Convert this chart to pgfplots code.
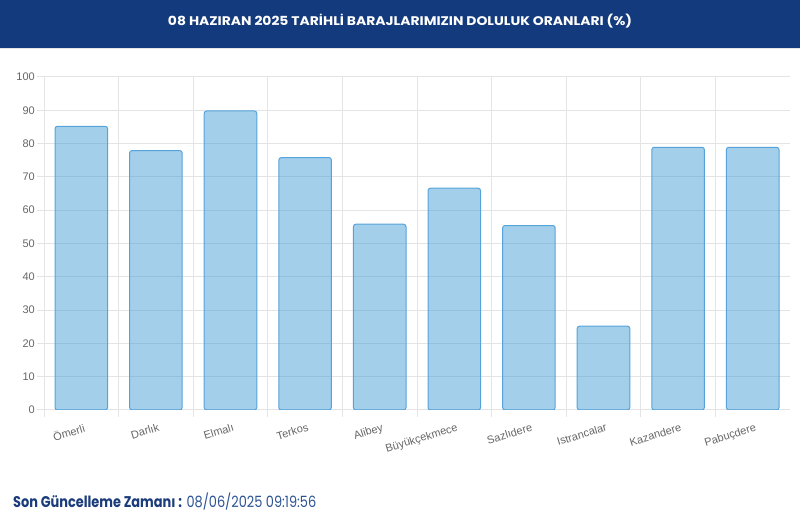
\documentclass[border=0pt]{standalone}
\usepackage{fontspec}
\setmainfont{Liberation Sans}
\newfontfamily\pop{Poppins}
\usepackage{pgfplots}
\pgfplotsset{compat=1.18}
\definecolor{band}{HTML}{133A7C}
\definecolor{tickc}{HTML}{666666}
\definecolor{gridc}{HTML}{E4E4E4}
\definecolor{barfill}{HTML}{499FD7}
\definecolor{barline}{HTML}{55A3DA}
\definecolor{dblue}{HTML}{1B3C7A}
\definecolor{mblue}{HTML}{2D5394}
\begin{document}
\begin{tikzpicture}[x=1bp,y=1bp]
\path[use as bounding box] (0,0) rectangle (800,527);
\fill[band] (0,479) rectangle (800,527);
\draw[gray!20, line width=1bp] (0,478.5) -- (800,478.5);
\node[text=white, inner sep=0pt, font=\pop\bfseries\fontsize{12.5bp}{14bp}\selectfont] at (400,506) {\resizebox{464bp}{\height}{08 HAZIRAN 2025 TARİHLİ BARAJLARIMIZIN DOLULUK ORANLARI (\%)}};
\node[anchor=west, inner sep=0pt, font=\pop\fontsize{15.5bp}{18bp}\selectfont] at (13,25) {\resizebox{303bp}{\height}{\textcolor{dblue}{\bfseries Son Güncelleme Zamanı :} \textcolor{mblue}{08/06/2025 09:19:56}}};
\begin{axis}[
  at={(44bp,117bp)}, anchor=south west,
  scale only axis, width=746bp, height=333bp,
  xmin=-0.5, xmax=9.5, ymin=0, ymax=100,
  axis line style={draw=none},
  ytick={0,10,...,100},
  xtick={0,...,9},
  xticklabels={Ömerli,Darlık,Elmalı,Terkos,Alibey,Büyükçekmece,Sazlıdere,Istrancalar,Kazandere,Pabuçdere},
  minor xtick={-0.5,0.5,...,8.5},
  xminorgrids, ymajorgrids,
  major grid style={gridc, line width=1bp},
  minor grid style={gridc, line width=1bp},
  tick align=outside,
  major tick length=7bp, minor tick length=7bp,
  xtick pos=bottom, ytick pos=left,
  every major x tick/.append style={draw=none},
  every minor x tick/.append style={gridc, line width=1bp},
  every major y tick/.append style={gridc, line width=1bp},
  /pgf/number format/assume math mode=true,
  yticklabel style={font=\fontsize{11bp}{13bp}\selectfont, text=tickc, inner sep=0pt, xshift=-2bp},
  xticklabel style={font=\fontsize{11bp}{13bp}\selectfont, text=tickc, inner sep=0pt, rotate=17, anchor=north east, yshift=-6bp},
]
\addplot[ybar, bar width=0.705, fill=barfill, fill opacity=0.5, draw=barline, line width=1bp, rounded corners=2.5bp]
  coordinates {(0,85.2) (1,77.9) (2,89.8) (3,75.8) (4,55.8) (5,66.6) (6,55.4) (7,25.2) (8,78.9) (9,78.9)};
\end{axis}
\end{tikzpicture}
\end{document}
